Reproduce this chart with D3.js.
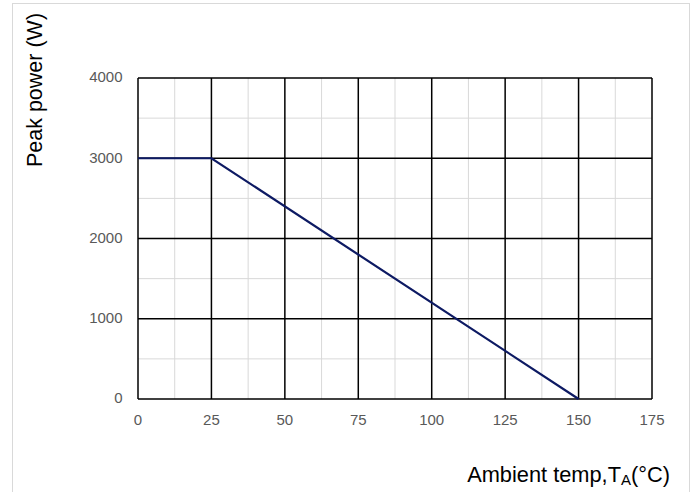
<!DOCTYPE html>
<html>
<head>
<meta charset="utf-8">
<script src="https://cdn.jsdelivr.net/npm/d3@7"></script>
<style>
  body { margin: 0; background: #fff; }
  svg { display: block; font-family: "Liberation Sans", Arial, sans-serif; }
</style>
</head>
<body>
<svg id="chart" width="696" height="492"></svg>
<script>
// derating curve
const tempValues = [0, 25, 150];
const powerValues = [3000, 3000, 0];
const xTicks = [0, 25, 50, 75, 100, 125, 150, 175];
const yTicks = [0, 1000, 2000, 3000, 4000];
const xMinor = [12.5, 37.5, 62.5, 87.5, 112.5, 137.5, 162.5];
const yMinor = [500, 1500, 2500, 3500];

let svg = d3.select("#chart");
let plotLeft = 138, plotRight = 652, plotTop = 78, plotBottom = 399;

// outer frame
svg.append("rect")
  .attr("x", 12.5).attr("y", 3.5)
  .attr("width", 677).attr("height", 500)
  .attr("fill", "none").attr("stroke", "#d9d9d9");

let x = d3.scaleLinear().domain([0, 175]).range([plotLeft, plotRight]);
let y = d3.scaleLinear().domain([0, 4000]).range([plotBottom, plotTop]);

// minor grid
svg.append("g").selectAll("line").data(xMinor).join("line")
  .attr("x1", d => x(d)).attr("x2", d => x(d))
  .attr("y1", plotTop).attr("y2", plotBottom)
  .attr("stroke", "#d9d9d9").attr("stroke-width", 1);
svg.append("g").selectAll("line").data(yMinor).join("line")
  .attr("x1", plotLeft).attr("x2", plotRight)
  .attr("y1", d => y(d)).attr("y2", d => y(d))
  .attr("stroke", "#d9d9d9").attr("stroke-width", 1);

// major grid
svg.append("g").selectAll("line").data(xTicks).join("line")
  .attr("x1", d => x(d)).attr("x2", d => x(d))
  .attr("y1", plotTop).attr("y2", plotBottom)
  .attr("stroke", "#000").attr("stroke-width", 1.5);
svg.append("g").selectAll("line").data(yTicks).join("line")
  .attr("x1", plotLeft).attr("x2", plotRight)
  .attr("y1", d => y(d)).attr("y2", d => y(d))
  .attr("stroke", "#000").attr("stroke-width", 1.5);

// tick labels
svg.append("g").selectAll("text").data(yTicks).join("text")
  .attr("x", 122.5).attr("y", d => y(d) - 1).attr("dy", "0.35em")
  .attr("text-anchor", "end").attr("font-size", 15).attr("fill", "#595959")
  .text(d => d);
svg.append("g").selectAll("text").data(xTicks).join("text")
  .attr("x", d => x(d)).attr("y", 424.5)
  .attr("text-anchor", "middle").attr("font-size", 15).attr("fill", "#595959")
  .text(d => d);

// curve
let line = d3.line().x((d, i) => x(tempValues[i])).y(d => y(d));
svg.append("path")
  .datum(powerValues)
  .attr("d", line)
  .attr("fill", "none")
  .attr("stroke", "#0d1a63")
  .attr("stroke-width", 2.2);

// axis titles
svg.append("text")
  .attr("transform", "translate(42,90) rotate(-90)")
  .attr("text-anchor", "middle").attr("font-size", 21.5).attr("fill", "#000")
  .text("Peak power (W)");

let xt = svg.append("text")
  .attr("x", 670).attr("y", 482)
  .attr("text-anchor", "end").attr("font-size", 21.8).attr("fill", "#000");
xt.append("tspan").text("Ambient temp,T");
xt.append("tspan").attr("font-size", 15).attr("dy", 3).text("A");
xt.append("tspan").attr("dy", -3).text("(°C)");
</script>
</body>
</html>
